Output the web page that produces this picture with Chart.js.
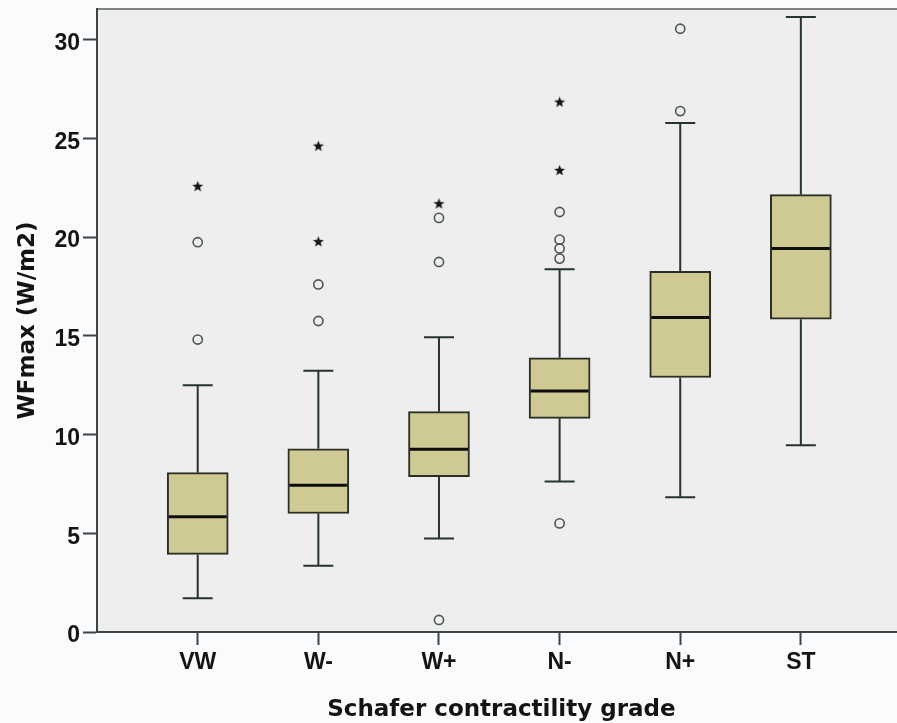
<!DOCTYPE html>
<html>
<head>
<meta charset="utf-8">
<script src="https://cdn.jsdelivr.net/npm/chart.js@4.4.1/dist/chart.umd.min.js"></script>
<style>
  html, body { margin: 0; padding: 0; background: #fafbfd; }
  #wrap { width: 897px; height: 723px; overflow: hidden; }
  canvas { display: block; }
</style>
</head>
<body>
<div id="wrap"><canvas id="box-chart" width="912" height="740"></canvas></div>
<script>
// Schafer grades and box plot summaries (WFmax, W/m2)
const grades = ['VW', 'W-', 'W+', 'N-', 'N+', 'ST'];
const whiskerLow = [1.71, 3.36, 4.74, 7.62, 6.82, 9.46];
const q1 = [3.93, 6.0, 7.86, 10.82, 12.89, 15.84];
const median = [5.84, 7.43, 9.26, 12.2, 15.93, 19.42];
const q3 = [8.07, 9.28, 11.16, 13.89, 18.27, 22.15];
const whiskerHigh = [12.5, 13.23, 14.93, 18.37, 25.78, 31.14];
// outliers (circles) and extremes (stars) per grade
const outliers = [
  [19.74, 14.81],
  [17.6, 15.75],
  [20.97, 18.74, 0.61],
  [21.27, 19.87, 19.42, 18.91, 5.5],
  [30.55, 26.38],
  []
];
const extremes = [
  [22.57],
  [24.61, 19.77],
  [21.69],
  [26.84, 23.38],
  [],
  []
];
const yTicks = [0, 5, 10, 15, 20, 25, 30];

const toPoints = (groups) => {
  const pts = [];
  groups.forEach((vals, i) => vals.forEach(v => pts.push({ x: i + 1, y: v })));
  return pts;
};

// filled star marker like the SPSS extreme symbol
const starImg = document.createElement('canvas');
starImg.width = 13;
starImg.height = 13;
(() => {
  const c = starImg.getContext('2d');
  c.fillStyle = '#151515';
  c.beginPath();
  for (let k = 0; k < 10; k++) {
    const r = k % 2 === 0 ? 5.8 : 2.4;
    const a = -Math.PI / 2 + k * Math.PI / 5;
    const px = 6.5 + r * Math.cos(a);
    const py = 6.8 + r * Math.sin(a);
    if (k === 0) c.moveTo(px, py); else c.lineTo(px, py);
  }
  c.closePath();
  c.fill();
})();

const boxExtras = {
  id: 'boxExtras',
  beforeDraw(chart) {
    const { ctx, chartArea: a } = chart;
    ctx.save();
    ctx.fillStyle = '#eeeeee';
    ctx.fillRect(a.left, a.top, a.right - a.left, a.bottom - a.top);
    ctx.strokeStyle = '#7d8283';
    ctx.lineWidth = 2;
    ctx.beginPath();
    ctx.moveTo(a.left, a.top);
    ctx.lineTo(a.right, a.top);
    ctx.stroke();
    ctx.restore();
  },
  beforeDatasetsDraw(chart) {
    const { ctx, scales: { x, y } } = chart;
    ctx.save();
    ctx.strokeStyle = '#263333';
    ctx.lineWidth = 2;
    grades.forEach((g, i) => {
      const px = x.getPixelForValue(i + 1);
      const hi = y.getPixelForValue(whiskerHigh[i]);
      const lo = y.getPixelForValue(whiskerLow[i]);
      ctx.beginPath();
      ctx.moveTo(px, hi);
      ctx.lineTo(px, y.getPixelForValue(q3[i]));
      ctx.moveTo(px, y.getPixelForValue(q1[i]));
      ctx.lineTo(px, lo);
      ctx.moveTo(px - 15, hi);
      ctx.lineTo(px + 15, hi);
      ctx.moveTo(px - 15, lo);
      ctx.lineTo(px + 15, lo);
      ctx.stroke();
    });
    ctx.restore();
  },
  afterDatasetsDraw(chart) {
    const { ctx, scales: { x, y } } = chart;
    ctx.save();
    ctx.strokeStyle = '#0d0d0d';
    ctx.lineWidth = 3;
    grades.forEach((g, i) => {
      const px = x.getPixelForValue(i + 1);
      const py = y.getPixelForValue(median[i]);
      ctx.beginPath();
      ctx.moveTo(px - 29, py);
      ctx.lineTo(px + 29, py);
      ctx.stroke();
    });
    ctx.restore();
  }
};

const tickFont = { family: '"Liberation Sans", Arial, sans-serif', weight: 'bold', size: 23 };
const titleFont = { family: '"DejaVu Sans", sans-serif', weight: 'bold', size: 23, lineHeight: 1.2 };

const ctx = document.getElementById('box-chart').getContext('2d');
const boxChart = new Chart(ctx, {
  type: 'bar',
  data: {
    datasets: [
      {
        data: grades.map((g, i) => ({ x: i + 1, y: [q1[i], q3[i]] })),
        backgroundColor: '#cfca94',
        borderColor: '#2b2e25',
        borderWidth: 2,
        borderSkipped: false,
        barThickness: 61,
        order: 2
      },
      {
        type: 'scatter',
        data: toPoints(outliers),
        pointStyle: 'circle',
        pointRadius: 4.6,
        pointBorderWidth: 1.6,
        pointBorderColor: '#4a5656',
        pointBackgroundColor: 'rgba(0,0,0,0)',
        order: 1
      },
      {
        type: 'scatter',
        data: toPoints(extremes),
        pointStyle: starImg,
        order: 1
      }
    ]
  },
  options: {
    responsive: false,
    animation: false,
    events: [],
    layout: { padding: { left: 0, right: 0, top: 9, bottom: 0 } },
    plugins: { legend: { display: false }, tooltip: { enabled: false } },
    scales: {
      x: {
        type: 'linear',
        min: 0.165,
        max: 6.87,
        offset: false,
        afterBuildTicks: s => { s.ticks = grades.map((g, i) => ({ value: i + 1 })); },
        afterFit: s => { s.height = 108; s.paddingLeft = 0; s.paddingRight = 0; },
        ticks: {
          callback: v => grades[v - 1],
          font: tickFont,
          color: '#141414',
          padding: 4,
          maxRotation: 0,
          autoSkip: false
        },
        grid: { drawOnChartArea: false, offset: false, tickLength: 13, tickColor: '#3a4646', tickWidth: 2 },
        border: { color: '#3a4646', width: 2 },
        title: {
          display: true,
          text: 'Schafer contractility grade',
          font: titleFont,
          color: '#141414',
          padding: { top: 0, bottom: 15.7 }
        }
      },
      y: {
        min: 0,
        max: 31.55,
        afterBuildTicks: s => { s.ticks = yTicks.map(v => ({ value: v })); },
        afterFit: s => { s.width = 97; s.paddingTop = 0; s.paddingBottom = 0; },
        ticks: { font: tickFont, color: '#141414', padding: 3, labelOffset: 4 },
        grid: { drawOnChartArea: false, tickLength: 14, tickColor: '#3a4646', tickWidth: 2 },
        border: { color: '#3a4646', width: 2 },
        title: {
          display: true,
          text: 'WFmax (W/m2)',
          font: titleFont,
          color: '#141414',
          padding: { top: 14.4, bottom: 0 }
        }
      }
    }
  },
  plugins: [boxExtras]
});
</script>
</body>
</html>
